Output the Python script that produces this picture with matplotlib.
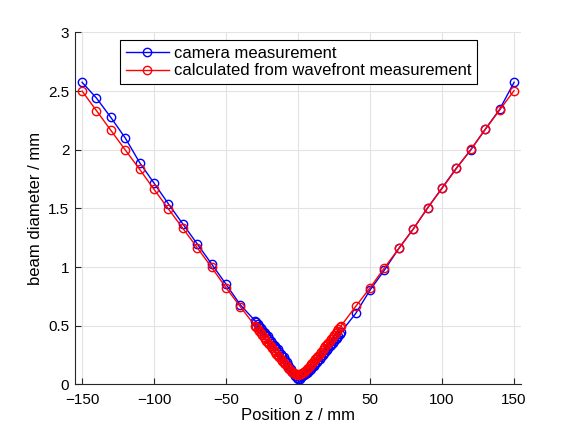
import numpy as np
import matplotlib
matplotlib.use("Agg")
import matplotlib.pyplot as plt
from matplotlib.ticker import FuncFormatter

plt.rcParams['font.family'] = ['Liberation Sans', 'DejaVu Sans']

# positions (mm): coarse outer steps plus dense scan around the focus
z_left = [-150, -140, -130, -120, -110, -100, -90, -80, -70, -60, -50, -40]
z_mid = list(range(-30, 31))
z_right = [40, 50, 60, 70, 80, 90, 100, 110, 120, 130, 140, 150]
z = z_left + z_mid + z_right

# camera measurement (mm)
cam_left = [2.575, 2.44, 2.275, 2.10, 1.89, 1.715, 1.538, 1.367, 1.197, 1.026, 0.853, 0.677]
cam_mid = [0.545, 0.53, 0.515, 0.495, 0.48, 0.465, 0.45, 0.44, 0.425, 0.41,
           0.385, 0.37, 0.355, 0.34, 0.325, 0.31, 0.30, 0.28, 0.26, 0.245,
           0.23, 0.21, 0.19, 0.17, 0.15, 0.13, 0.11, 0.09, 0.07, 0.055,
           0.045,
           0.05, 0.06, 0.07, 0.08, 0.09, 0.10, 0.11, 0.12, 0.135, 0.15,
           0.16, 0.175, 0.19, 0.205, 0.22, 0.235, 0.25, 0.265, 0.28, 0.295,
           0.31, 0.325, 0.34, 0.355, 0.37, 0.385, 0.40, 0.415, 0.43, 0.45]
cam_right = [0.605, 0.805, 0.975, 1.16, 1.325, 1.505, 1.675, 1.845, 2.00, 2.175, 2.345, 2.575]
camera = cam_left + cam_mid + cam_right

# calculated from wavefront measurement (mm)
wf_left = [2.50, 2.333, 2.165, 1.998, 1.833, 1.662, 1.495, 1.330, 1.165, 0.997, 0.824, 0.660]
wf_mid = [0.502, 0.486, 0.470, 0.454, 0.437, 0.421, 0.405, 0.389, 0.373, 0.357,
          0.341, 0.325, 0.309, 0.293, 0.277, 0.262, 0.246, 0.231, 0.215, 0.200,
          0.186, 0.171, 0.157, 0.143, 0.130, 0.118, 0.108, 0.098, 0.091, 0.087,
          0.085,
          0.087, 0.091, 0.098, 0.108, 0.118, 0.130, 0.143, 0.157, 0.171, 0.186,
          0.200, 0.215, 0.231, 0.246, 0.262, 0.277, 0.293, 0.309, 0.325, 0.341,
          0.357, 0.373, 0.389, 0.405, 0.421, 0.437, 0.454, 0.470, 0.486, 0.502]
wf_right = [0.665, 0.824, 0.995, 1.159, 1.325, 1.506, 1.671, 1.841, 2.003, 2.174, 2.339, 2.504]
wavefront = wf_left + wf_mid + wf_right

fig = plt.figure(figsize=(5.76, 4.32), dpi=100)
ax = fig.add_axes([0.13, 0.11, 0.775, 0.815])

ax.plot(z, camera, '-o', color='blue', lw=1, ms=6, mfc='none', mew=1,
        label='camera measurement')
ax.plot(z, wavefront, '-o', color='red', lw=1, ms=6, mfc='none', mew=1,
        label='calculated from wavefront measurement')

ax.set_xlim(-155, 155)
ax.set_ylim(0, 3)
ax.set_xticks([-150, -100, -50, 0, 50, 100, 150])
ax.set_yticks([0, 0.5, 1, 1.5, 2, 2.5, 3])
ax.yaxis.set_major_formatter(FuncFormatter(lambda v, p: f'{v:g}'))
ax.grid(True, color='#e3e3e3', lw=0.8)
ax.set_axisbelow(True)

for s in ['top', 'right']:
    ax.spines[s].set_visible(False)
for s in ['left', 'bottom']:
    ax.spines[s].set_color('#262626')
ax.tick_params(direction='in', length=4, labelsize=11, colors='#262626',
               labelcolor='black')
ax.tick_params(axis='x', pad=6)
ax.tick_params(axis='y', pad=4)

ax.set_xlabel('Position z / mm', fontsize=12, labelpad=1)
ax.set_ylabel('beam diameter / mm', fontsize=12)

leg = ax.legend(loc='upper left', bbox_to_anchor=(0.101, 0.978), fontsize=12,
                fancybox=False, edgecolor='black', framealpha=1,
                borderaxespad=0, handlelength=2.6, handletextpad=0.3,
                borderpad=0.35, labelspacing=0.15)
leg.get_frame().set_linewidth(0.8)

fig.savefig('out.png', dpi=100)
